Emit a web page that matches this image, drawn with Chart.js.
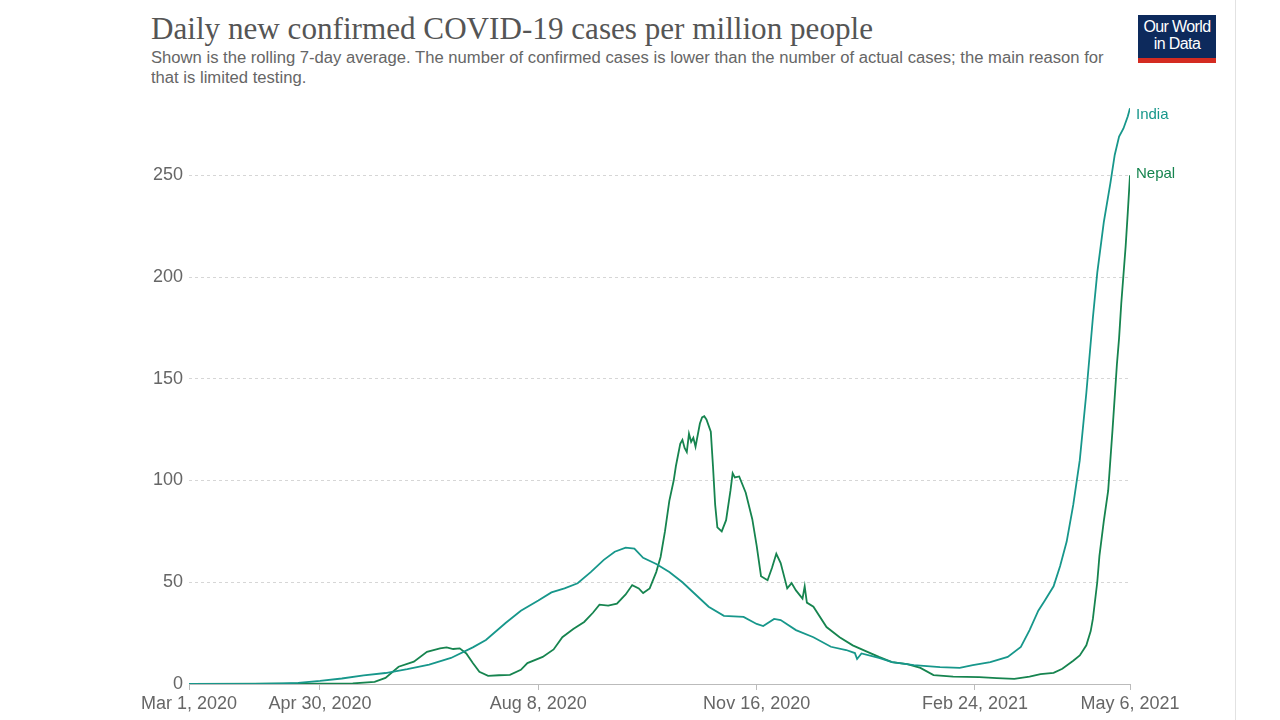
<!DOCTYPE html>
<html>
<head>
<meta charset="utf-8">
<script src="https://cdn.jsdelivr.net/npm/chart.js@4"></script>
<style>
  body { margin: 0; background: #fff; font-family: "Liberation Sans", Arial, sans-serif; }
  #wrap { position: relative; width: 1280px; height: 720px; overflow: hidden; }
  #title { position: absolute; left: 151px; top: 10px; margin: 0; font-family: "Liberation Serif", "DejaVu Serif", serif;
           font-weight: normal; font-size: 32px; color: #555; white-space: nowrap; transform-origin: 0 0; }
  #subtitle { position: absolute; left: 151px; top: 48px; margin: 0; font-size: 16px; line-height: 20px; color: #666;
              white-space: nowrap; transform-origin: 0 0; }
  #logo { position: absolute; left: 1138px; top: 15px; width: 78px; height: 40px; background: #0d2a5c;
          border-bottom: 5px solid #d42b21; color: #fff; font-size: 16px; line-height: 17px; text-align: center;
          padding-top: 3px; box-sizing: content-box; letter-spacing: -0.6px; }
  #frame { position: absolute; left: 1235px; top: 0; width: 1px; height: 720px; background: #e2e2e2; }
  #chart { position: absolute; left: 0; top: 0; }
</style>
</head>
<body>
<div id="wrap">
  <h1 id="title">Daily new confirmed COVID-19 cases per million people</h1>
  <p id="subtitle"><span id="sub1">Shown is the rolling 7-day average. The number of confirmed cases is lower than the number of actual cases; the main reason for</span><br>that is limited testing.</p>
  <div id="logo">Our World<br>in Data</div>
  <div id="frame"></div>
  <canvas id="chart" width="1280" height="720"></canvas>
</div>
<script>
// Axe des x : jours depuis le 1er mars 2020
const tickDays = [0, 60, 160, 260, 360, 431];
const tickLabels = ['Mar 1, 2020', 'Apr 30, 2020', 'Aug 8, 2020', 'Nov 16, 2020', 'Feb 24, 2021', 'May 6, 2021'];
const yTicks = [0, 50, 100, 150, 200, 250];

// Inde
const indiaDays = [0, 30, 43, 50, 60, 70, 80, 90, 100, 110, 120, 130, 136, 145, 152, 160, 166, 172, 178, 184, 190, 195, 200, 204,
  208, 214, 220, 226, 232, 238, 245, 254, 260, 263, 268, 271, 278, 286, 294, 301, 305, 306, 308, 316, 322, 332, 344, 353,
  359, 367, 375, 381, 385, 389, 392, 396, 399, 402, 405, 408, 411, 414, 416, 419, 422, 424, 426, 428, 430, 431];
const indiaCases = [0, 0.05, 0.3, 0.6, 1.5, 2.7, 4.2, 5.4, 7.3, 9.5, 12.8, 18, 21.6, 30, 36, 41, 45, 47, 49.5, 55, 61, 65, 67, 66.5,
  62, 59, 55, 50, 44, 38, 33.5, 33, 29.5, 28.5, 32, 31.4, 26.5, 23, 18.3, 16.7, 15.2, 12.3, 15, 12.8, 10.8, 9.3, 8.3, 7.9,
  9.3, 10.8, 13.3, 18.2, 26.5, 36, 41, 48, 58, 70, 88, 110, 143, 180, 202, 227, 246, 260, 269, 273, 279, 283];

// Népal
const nepalDays = [0, 75, 85, 90, 96, 103, 109, 115, 118, 121, 124, 127, 130, 133, 137, 142, 147, 152, 155, 162, 167, 171, 176,
  181, 185, 188, 192, 196, 200, 203, 206, 208, 211, 214, 216, 218, 220, 222, 223, 225, 226, 227, 228, 229, 230, 231, 232,
  234, 235, 236, 237, 239, 240, 241, 242, 244, 246, 248, 249, 250, 252, 255, 258, 260, 262, 265, 267, 269, 271, 274, 276,
  278, 281, 282, 283, 286, 292, 298, 304, 311, 316, 322, 329, 335, 341, 350, 362, 370, 378, 385, 390, 396, 400, 405, 408,
  411, 413, 414, 416, 417, 419, 421, 423, 425, 426, 427, 429, 430, 431];
const nepalCases = [0, 0.3, 1, 3, 8.5, 11, 15.8, 17.5, 18, 17.2, 17.5, 15, 10.3, 6, 4, 4.3, 4.5, 7, 10.3, 13.3, 17, 23, 27,
  30.5, 35, 39, 38.5, 39.5, 44, 48.6, 47, 44.7, 47, 55, 62.4, 75, 90, 100, 107, 118, 120, 116, 114, 123, 119, 121, 116.6,
  128, 131, 131.6, 130, 124, 107, 88, 77, 75, 80.5, 95, 103.6, 101.5, 102, 94, 81, 68, 53, 51, 57, 64, 59.4, 47, 49.6,
  46, 42, 48, 40, 38, 28, 23, 19, 15.7, 13.3, 10.8, 9.8, 7.9, 4.4, 3.6, 3.4, 2.9, 2.5, 3.6, 4.9, 5.5, 7.5, 11.4, 14,
  19, 26, 32, 50, 63, 80, 95, 125, 157, 170, 187, 215, 232, 250];

const indiaColor = '#17978b';
const nepalColor = '#16844f';

function toPoints(days, values) {
    return days.map((d, i) => ({ x: d, y: values[i] }));
}

// Ajuster la largeur du titre et du sous-titre
const title = document.getElementById('title');
title.style.transform = 'scaleX(' + (722 / title.scrollWidth) + ')';
const sub1 = document.getElementById('sub1');
document.getElementById('subtitle').style.transform = 'scaleX(' + (953 / sub1.offsetWidth) + ')';

// Étiquettes au bout des lignes
const endLabels = {
    id: 'endLabels',
    afterDatasetsDraw(chart) {
        const ctx = chart.ctx;
        ctx.save();
        ctx.font = '15px "Liberation Sans", Arial, sans-serif';
        ctx.textBaseline = 'middle';
        chart.data.datasets.forEach((ds, i) => {
            const pts = chart.getDatasetMeta(i).data;
            const last = pts[pts.length - 1];
            ctx.fillStyle = ds.borderColor;
            ctx.fillText(ds.label, last.x + 6, last.y + ds.labelShift);
        });
        ctx.restore();
    }
};

const ctx = document.getElementById('chart').getContext('2d');
new Chart(ctx, {
    type: 'line',
    data: {
        datasets: [
            { label: 'India', data: toPoints(indiaDays, indiaCases), borderColor: indiaColor, labelShift: 7 },
            { label: 'Nepal', data: toPoints(nepalDays, nepalCases), borderColor: nepalColor, labelShift: -1 }
        ]
    },
    options: {
        responsive: false,
        animation: false,
        layout: { padding: { top: 100, right: 150, left: 0, bottom: 0 } },
        elements: {
            line: { borderWidth: 1.8, tension: 0, fill: false },
            point: { radius: 0 }
        },
        plugins: { legend: { display: false }, tooltip: { enabled: false } },
        scales: {
            x: {
                type: 'linear',
                min: 0,
                max: 431,
                afterBuildTicks: scale => { scale.ticks = tickDays.map(v => ({ value: v })); },
                afterFit: scale => { scale.height = 36; },
                ticks: {
                    callback: (v) => tickLabels[tickDays.indexOf(v)],
                    color: '#666',
                    font: { family: '"Liberation Sans", Arial, sans-serif', size: 18 },
                    maxRotation: 0,
                    autoSkip: false,
                    padding: 3
                },
                grid: { drawOnChartArea: false, drawTicks: true, tickLength: 6, color: '#bbb' },
                border: { display: true, color: '#bbb' }
            },
            y: {
                min: 0,
                max: 287,
                afterBuildTicks: scale => { scale.ticks = yTicks.map(v => ({ value: v })); },
                afterFit: scale => { scale.width = 189; },
                ticks: {
                    color: '#666',
                    font: { family: '"Liberation Sans", Arial, sans-serif', size: 18 },
                    padding: 6
                },
                grid: {
                    drawTicks: false,
                    color: c => c.tick && c.tick.value === 0 ? 'rgba(0,0,0,0)' : '#d6d6d6'
                },
                border: { display: false, dash: [3, 3] }
            }
        }
    },
    plugins: [endLabels]
});
</script>
</body>
</html>
